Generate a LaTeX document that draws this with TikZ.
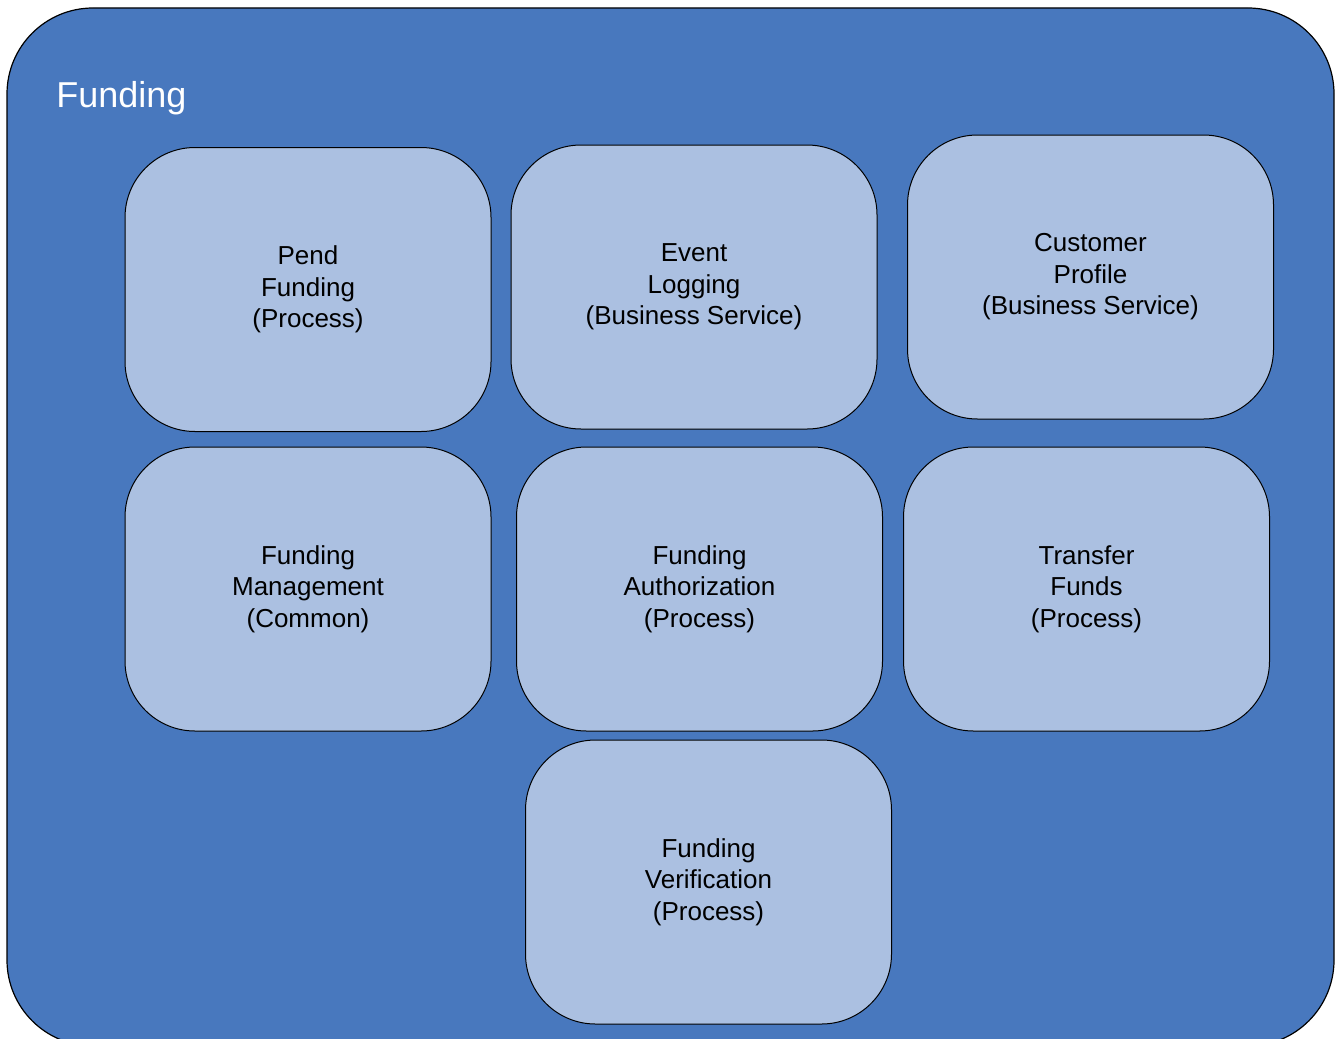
\documentclass[tikz,border=0pt]{standalone}
\usepackage{fontspec}
\setmainfont{Liberation Sans}

\definecolor{groupblue}{RGB}{72,120,190}
\definecolor{cardblue}{RGB}{171,192,225}

\tikzset{
	group/.style={draw=black, line width=0.6pt, fill=groupblue, rounded corners=43pt},
	card/.style={draw=black, line width=0.5pt, fill=cardblue, rounded corners=35pt,
		minimum width=183pt, minimum height=142pt, align=center,
		font=\fontsize{13}{15.8}\selectfont, inner sep=0pt},
}

\begin{document}
\begin{tikzpicture}[x=0.5pt, y=-0.5pt]
			\useasboundingbox (0,0) rectangle (1336,1038);
			\draw[group] (7,8) rectangle (1334,1046);
			\node[anchor=base west, inner sep=0pt, text=white, font=\fontsize{18}{22}\selectfont] (title) at (56,107) {Funding};
			
			% top row
			\node[card] (pend) at (308,289.5) {Pend\\Funding\\(Process)};
			\node[card] (logging) at (694,287) {Event\\Logging\\(Business Service)};
			\node[card] (profile) at (1090.5,277) {Customer\\Profile\\(Business Service)};
			
			% middle row
			\node[card] (mgmt) at (308,589) {Funding\\Management\\(Common)};
			\node[card] (auth) at (699.5,589) {Funding\\Authorization\\(Process)};
			\node[card] (transfer) at (1086.5,589) {Transfer\\Funds\\(Process)};
			
			% bottom
			\node[card] (verify) at (708.5,882) {Funding\\Verification\\(Process)};
		\end{tikzpicture}
\end{document}
